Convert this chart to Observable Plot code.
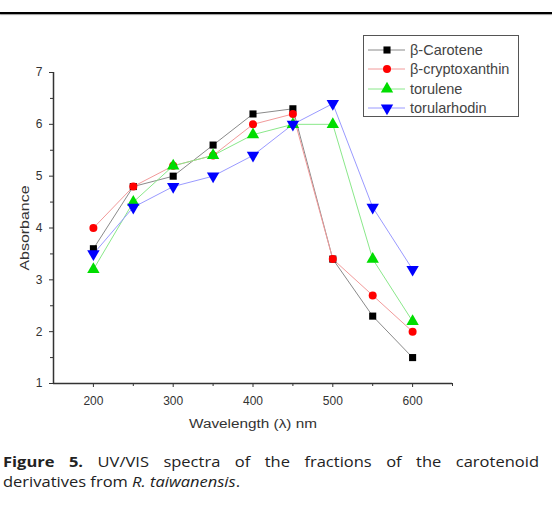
<!DOCTYPE html>
<html>
<head>
<meta charset="utf-8">
<script src="https://cdn.jsdelivr.net/npm/d3@7"></script>
<script src="https://cdn.jsdelivr.net/npm/@observablehq/plot@0.6"></script>
<style>
  html, body { margin: 0; padding: 0; background: #fff; }
  #wrap { position: relative; width: 552px; height: 522px; overflow: hidden; }
  #topline { position: absolute; left: 0; top: 12px; width: 552px; height: 2px; background: #000; box-shadow: 0 1px 1px #999; }
  #chart { position: absolute; left: 0; top: 0; }
  #legend { position: absolute; left: 363px; top: 35px; width: 156px; height: 82px; border: 1.5px solid #555; box-sizing: border-box; background: #fff; }
  .li { position: absolute; left: 0; height: 18px; display: flex; align-items: center; font-family: "Liberation Sans", Arial, sans-serif; font-size: 14.5px; color: #444; white-space: nowrap; }
  #caption { position: absolute; left: 3px; top: 452px; font-family: "Open Sans", sans-serif; font-size: 14px; line-height: 19.5px; color: #222; transform-origin: 0 0; }
  #caption .l1 { text-align: justify; text-align-last: justify; white-space: nowrap; }
  #caption .l2 { text-align: left; white-space: nowrap; }
  #caption b { font-weight: 700; }
</style>
</head>
<body>
<div id="wrap">
  <div id="topline"></div>
  <div id="chart"></div>
  <div id="legend"></div>
  <div id="caption"><div class="l1"><b>Figure 5.</b> UV/VIS spectra of the fractions of the carotenoid</div><div class="l2"><span id="l2span">derivatives from <i>R. taiwanensis</i>.</span></div></div>
</div>
<script>
const wavelengths = [200, 250, 300, 350, 400, 450, 500, 550, 600];
const seriesNames = ["β-Carotene", "β-cryptoxanthin", "torulene", "torularhodin"];
const betaCarotene      = [3.6, 4.8, 5.0, 5.6, 6.2, 6.3, 3.4, 2.3, 1.5];
const betaCryptoxanthin = [4.0, 4.8, 5.2, 5.4, 6.0, 6.2, 3.4, 2.7, 2.0];
const torulene          = [3.2, 4.5, 5.2, 5.4, 5.8, 6.0, 6.0, 3.4, 2.2];
const torularhodin      = [3.5, 4.4, 4.8, 5.0, 5.4, 6.0, 6.4, 4.4, 3.2];
const xMajorTicks = [200, 300, 400, 500, 600];
const xMinorTicks = [250, 350, 450, 550, 650];
const yMajorTicks = [1, 2, 3, 4, 5, 6, 7];
const yMinorTicks = [1.5, 2.5, 3.5, 4.5, 5.5, 6.5];

const symbolTriangleDown = {
  draw(context, size) {
    const y = -Math.sqrt(size / (Math.sqrt(3) * 3));
    context.moveTo(0, -y * 2);
    context.lineTo(Math.sqrt(3) * y, y);
    context.lineTo(-Math.sqrt(3) * y, y);
    context.closePath();
  }
};

const styles = [
  {name: seriesNames[0], values: betaCarotene, line: "#8a8a8a", fill: "#000000", symbol: "square", r: 4},
  {name: seriesNames[1], values: betaCryptoxanthin, line: "#f29a9a", fill: "#ff0000", symbol: "circle", r: 4},
  {name: seriesNames[2], values: torulene, line: "#8ae88a", fill: "#00dd00", symbol: "triangle", r: 4.6},
  {name: seriesNames[3], values: torularhodin, line: "#9a9aff", fill: "#0000ff", symbol: symbolTriangleDown, r: 4.6}
];

const marks = [];
for (const s of styles) {
  const data = wavelengths.map((w, i) => ({x: w, y: s.values[i]}));
  marks.push(Plot.line(data, {x: "x", y: "y", stroke: s.line, strokeWidth: 1}));
}
for (const s of styles) {
  const data = wavelengths.map((w, i) => ({x: w, y: s.values[i]}));
  marks.push(Plot.dot(data, {x: "x", y: "y", fill: s.fill, stroke: "none", symbol: () => s.symbol, r: s.r}));
}

const chart = Plot.plot({
  width: 552,
  height: 440,
  marginLeft: 53,
  marginRight: 100,
  marginTop: 72,
  marginBottom: 57,
  style: {fontFamily: "'Liberation Sans', Arial, sans-serif", fontSize: "12px", color: "#333", background: "transparent"},
  x: {domain: [150, 650]},
  y: {domain: [1, 7]},
  marks: [
    Plot.axisX({ticks: xMajorTicks, tickSize: 4, tickPadding: 9, fontSize: 12, label: "Wavelength (λ) nm", labelAnchor: "center", labelArrow: "none", labelOffset: 44, stroke: "#333"}),
    Plot.axisX({ticks: xMinorTicks, tickSize: 3, tickFormat: () => "", label: null, stroke: "#333"}),
    Plot.axisY({ticks: yMajorTicks, tickSize: 4, tickPadding: 7, tickFormat: d3.format("d"), fontSize: 12, label: "Absorbance", labelAnchor: "center", labelArrow: "none", labelOffset: 33, stroke: "#333"}),
    Plot.axisY({ticks: yMinorTicks, tickSize: 3, tickFormat: () => "", label: null, stroke: "#333"}),
    Plot.ruleX([150], {stroke: "#333", strokeWidth: 1.5}),
    Plot.ruleY([1], {stroke: "#333", strokeWidth: 1.5}),
    ...marks
  ]
});
document.getElementById("chart").appendChild(chart);

// widen the axis titles, as in the reference
d3.select(chart).selectAll("text").each(function() {
  const t = this.textContent;
  if (t === "Wavelength (λ) nm") d3.select(this).attr("textLength", 128).attr("lengthAdjust", "spacingAndGlyphs");
  if (t === "Absorbance") d3.select(this).attr("textLength", 85).attr("lengthAdjust", "spacingAndGlyphs");
});

// legend
const legend = document.getElementById("legend");
const rowCenters = [15.7, 34.5, 54, 73.2];
styles.forEach((s, i) => {
  const row = document.createElement("div");
  row.className = "li";
  row.style.top = (rowCenters[i] - 1.5 - 9) + "px";
  const sym = d3.create("svg").attr("width", 44).attr("height", 18);
  sym.append("line").attr("x1", 4).attr("x2", 41).attr("y1", 9).attr("y2", 9).attr("stroke", s.line).attr("stroke-width", 1);
  const type = typeof s.symbol === "string" ? ({square: d3.symbolSquare, circle: d3.symbolCircle, triangle: d3.symbolTriangle})[s.symbol] : s.symbol;
  sym.append("path").attr("transform", "translate(23,9)").attr("d", d3.symbol(type, Math.PI * s.r * s.r)()).attr("fill", s.fill);
  row.appendChild(sym.node());
  const t = document.createElement("span");
  t.textContent = s.name;
  t.style.marginLeft = "2px";
  row.appendChild(t);
  legend.appendChild(row);
});

// caption: stretch horizontally so line 2 spans like the reference, line 1 justified to the full width
const cap = document.getElementById("caption");
const w2 = document.getElementById("l2span").getBoundingClientRect().width;
const sx = 237 / w2;
cap.style.width = (536 / sx) + "px";
cap.style.transform = "scaleX(" + sx + ")";
</script>
</body>
</html>
